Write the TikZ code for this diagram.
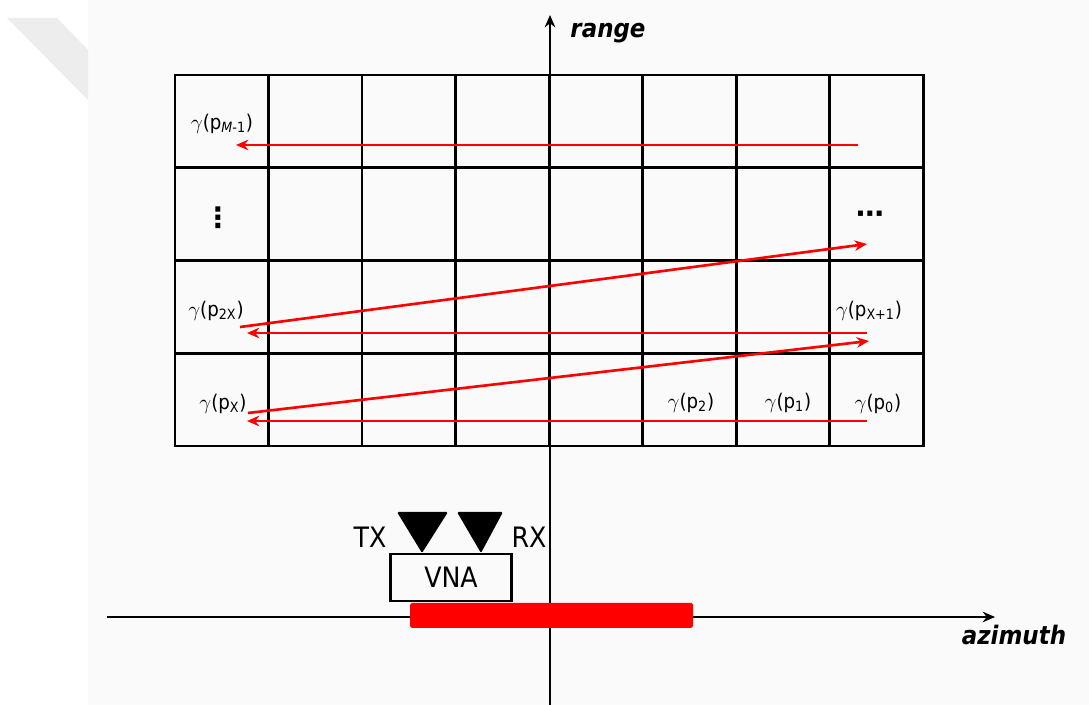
\documentclass[tikz,border=0pt]{standalone}
\usepackage{fontspec}
\setmainfont{DejaVu Sans Condensed}
\newfontfamily\dotsfont{DejaVu Sans}
\usetikzlibrary{arrows.meta}

\definecolor{scanRed}{RGB}{255,0,0}
\definecolor{pageGray}{RGB}{250,250,250}

\tikzset{
  cellline/.style={line width=1.7pt},
  axisline/.style={line width=1.1pt,-{Stealth[length=7pt,width=6pt]}},
  scanpath/.style={scanRed,line width=1.5pt,-{Stealth[length=7pt,width=6pt]}},
  plabel/.style={inner sep=0pt,font=\fontsize{11.5}{13}\selectfont},
  dotlabel/.style={inner sep=0pt,font=\fontsize{16}{18}\selectfont\dotsfont\bfseries},
  axlabel/.style={inner sep=0pt,font=\fontsize{14.5}{16}\selectfont\bfseries\itshape},
  antenna/.style={fill=black,rounded corners=0.8pt},
  boxtext/.style={inner sep=0pt,font=\fontsize{16}{18}\selectfont},
}

\begin{document}
\begin{tikzpicture}[x=0.02cm,y=-0.02cm]
  \useasboundingbox (0,0) rectangle (1089,705);
  \fill[white] (0,0) rectangle (1089,705);
  \fill[pageGray] (88,0) rectangle (1089,705);
  \fill[black!7] (7,18) -- (57,18) -- (88,50) -- (88,100) -- cycle;
  % Range cells
  \foreach \i in {1,...,7}
    \draw[cellline] ({175+93.5*\i},75) -- ({175+93.5*\i},446);
  \foreach \j in {1,2,3}
    \draw[cellline] (175,{75+92.75*\j}) -- (923,{75+92.75*\j});
  \draw[cellline] (175,75) rectangle (923,446);
  % Axes
  \draw[axisline] (550,705) -- (550,15);
  \draw[axisline] (107,617) -- (995,617);
  \node[axlabel] (rangeLbl) at (608,33) {range};
  \node[axlabel] (azLbl) at (1014,635) {azimuth};
  % Rail and VNA
  \fill[scanRed,rounded corners=1pt] (410,603) rectangle (693,628);
  \node[draw,line width=1.7pt,minimum width=2.44cm,minimum height=0.94cm,
        boxtext] (vna) at (451,577.5) {VNA};
  \fill[antenna] (397,512) -- (448,512) -- (422,553) -- cycle;
  \fill[antenna] (457,512) -- (503,512) -- (481,553) -- cycle;
  \node[boxtext] (tx) at (370,537) {TX};
  \node[boxtext] (rx) at (529,537) {RX};
  % Cell labels
  \node[plabel] (pM) at (222,124) {$\gamma$(p\textsubscript{\textit{M}-1})};
  \node[dotlabel] (vdots) at (218,218) {⋮};
  \node[dotlabel] (hdots) at (870,217) {⋯};
  \node[plabel] (p2X) at (216,311) {$\gamma$(p\textsubscript{2X})};
  \node[plabel] (pX1) at (869,311) {$\gamma$(p\textsubscript{X+1})};
  \node[plabel] (pX) at (223,404) {$\gamma$(p\textsubscript{X})};
  \node[plabel] (p2) at (691,403) {$\gamma$(p\textsubscript{2})};
  \node[plabel] (p1) at (788,403) {$\gamma$(p\textsubscript{1})};
  \node[plabel] (p0) at (878,404) {$\gamma$(p\textsubscript{0})};
  % Scan path end points
  \coordinate (s0) at (867,421);
  \coordinate (eX) at (247,421);
  \coordinate (bX) at (248,413);
  \coordinate (sX1) at (869,341);
  \coordinate (bX1) at (867,333);
  \coordinate (e2X) at (247,333);
  \coordinate (b2X) at (240,327);
  \coordinate (sDots) at (867,244);
  \coordinate (bM) at (858,145);
  \coordinate (eM) at (236,145);
  % Scan path
  \draw[scanpath] (s0) -- (eX);
  \draw[scanpath] (bX) -- (sX1);
  \draw[scanpath] (bX1) -- (e2X);
  \draw[scanpath] (b2X) -- (sDots);
  \draw[scanpath] (bM) -- (eM);
\end{tikzpicture}
\end{document}
